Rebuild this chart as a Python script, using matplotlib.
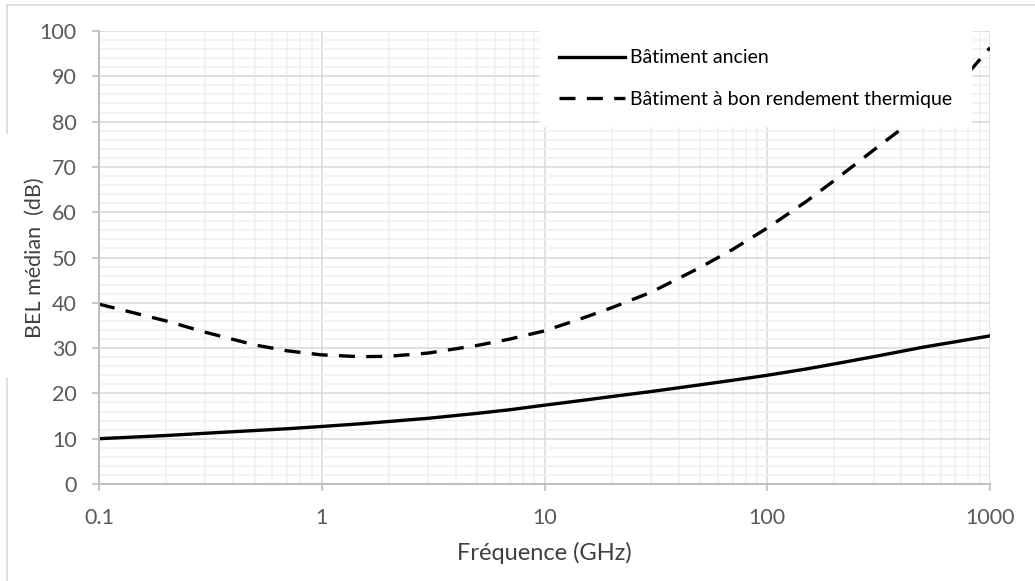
import matplotlib
matplotlib.use("Agg")
import matplotlib.pyplot as plt
from matplotlib.lines import Line2D
from matplotlib.ticker import FixedLocator, FixedFormatter, MultipleLocator, NullFormatter

plt.rcParams['font.family'] = ['Lato', 'DejaVu Sans']

# frequency (GHz) and median BEL (dB)
freq = [0.1, 0.2, 0.3, 0.5, 0.7, 1, 1.5, 2, 3, 5, 7, 10, 15, 20, 30, 50, 70,
        100, 150, 200, 300, 500, 700, 1000]
bel_ancien = [10.0, 10.7, 11.2, 11.8, 12.2, 12.7, 13.3, 13.8, 14.5, 15.6, 16.4,
              17.4, 18.5, 19.3, 20.4, 21.9, 22.9, 24.0, 25.4, 26.5, 28.1, 30.2,
              31.4, 32.7]
bel_thermique = [39.7, 36.0, 33.5, 30.7, 29.4, 28.5, 28.1, 28.2, 28.9, 30.6,
                 32.0, 33.8, 36.7, 38.9, 42.3, 47.8, 51.8, 56.5, 62.4, 67.0,
                 73.7, 82.0, 87.5, 96.3]
labels = ['Bâtiment ancien', 'Bâtiment à bon rendement thermique']
x_ticks = [0.1, 1, 10, 100, 1000]
x_ticklabels = ['0.1', '1', '10', '100', '1000']

fig = plt.figure(figsize=(10.35, 5.81), dpi=100)
ax = fig.add_axes([99 / 1035, 97 / 581, 891 / 1035, 453 / 581])

ax.plot(freq, bel_ancien, color='black', lw=2.4, label=labels[0])
ax.plot(freq, bel_thermique, color='black', lw=2.4, dashes=(4.8, 3.4),
        label=labels[1])

ax.set_xscale('log')
ax.set_xlim(0.1, 1000)
ax.set_ylim(0, 100)
ax.xaxis.set_major_locator(FixedLocator(x_ticks))
ax.xaxis.set_major_formatter(FixedFormatter(x_ticklabels))
minors = [m * 10.0 ** e for e in range(-1, 3) for m in range(2, 10)]
ax.xaxis.set_minor_locator(FixedLocator(minors))
ax.xaxis.set_minor_formatter(NullFormatter())
ax.yaxis.set_major_locator(MultipleLocator(10))
ax.yaxis.set_minor_locator(MultipleLocator(2))

ax.grid(which='major', color='#d9d9d9', lw=1.1)
ax.grid(which='minor', color='#f0f0f0', lw=1.1)
ax.set_axisbelow(True)

for s in ['top', 'right']:
    ax.spines[s].set_visible(False)
for s in ['left', 'bottom']:
    ax.spines[s].set_color('#bfbfbf')
    ax.spines[s].set_linewidth(1.5)

ax.tick_params(which='major', length=5, color='#bfbfbf', width=1.2,
               labelsize=15.5, labelcolor='#595959', pad=12)
ax.tick_params(axis='y', which='major', pad=11)
ax.tick_params(which='minor', length=0)

ax.set_xlabel('Fréquence (GHz)', fontsize=17, color='#404040', labelpad=10)
ax.set_ylabel('BEL médian  (dB)', fontsize=15.5, color='#404040', labelpad=-4)

leg = ax.legend(loc='upper left', bbox_to_anchor=(0.495, 1.0), frameon=True,
                fancybox=False, edgecolor='white', facecolor='white',
                framealpha=1, fontsize=14, handlelength=3.4,
                handletextpad=0.3, labelspacing=1.25, borderpad=0.95,
                borderaxespad=0)

# light chart frame
for xs, ys in [((7 / 1035, 1.0), (1 - 5 / 581, 1 - 5 / 581)),
               ((7 / 1035, 7 / 1035), (1 - 5 / 581, 1 - 133 / 581)),
               ((7 / 1035, 7 / 1035), (1 - 378 / 581, 0.0))]:
    fig.add_artist(Line2D(xs, ys, color='#d9d9d9', lw=1.2,
                          transform=fig.transFigure))

fig.savefig('out.png', dpi=100)
